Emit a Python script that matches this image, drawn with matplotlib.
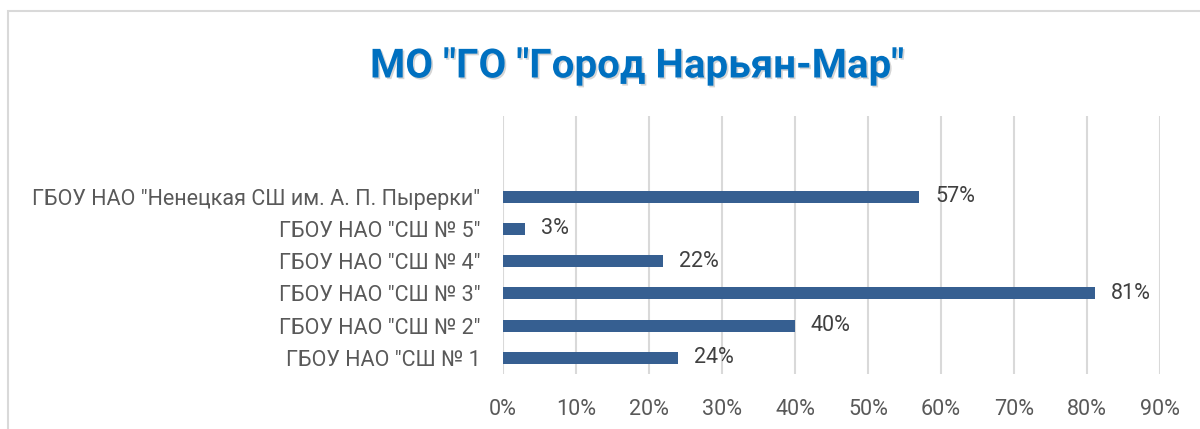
import matplotlib
matplotlib.use("Agg")
import matplotlib.pyplot as plt
import matplotlib.patheffects as pe
from matplotlib.patches import Rectangle
from matplotlib.ticker import FuncFormatter

categories = [
    'ГБОУ НАО "СШ № 1',
    'ГБОУ НАО "СШ № 2"',
    'ГБОУ НАО "СШ № 3"',
    'ГБОУ НАО "СШ № 4"',
    'ГБОУ НАО "СШ № 5"',
    'ГБОУ НАО "Ненецкая СШ им. А. П. Пырерки"',
]
values = [0.24, 0.40, 0.81, 0.22, 0.03, 0.57]
xticks = [0.0, 0.1, 0.2, 0.3, 0.4, 0.5, 0.6, 0.7, 0.8, 0.9]
title = 'МО "ГО "Город Нарьян-Мар"'

plt.rcParams['font.family'] = ['Roboto', 'DejaVu Sans']

W, H = 1200, 429
fig = plt.figure(figsize=(W / 100, H / 100), dpi=100)

# outer border
fig.patches.append(Rectangle((8 / W, -0.2), 1.2, 1 - 11 / H + 0.2,
                             transform=fig.transFigure, fill=False,
                             edgecolor='#D9D9D9', linewidth=1.5))

left, right = 502.7 / W, 1160.3 / W
bottom, top = 1 - 374 / H, 1 - 116 / H
ax = fig.add_axes([left, bottom, right - left, top - bottom])

ypos = list(range(len(categories)))
ax.barh(ypos, values, height=0.37, color='#365F91', zorder=3)

ax.set_xlim(0, 0.9)
ax.set_ylim(-0.5, 7.5)
ax.set_xticks(xticks)
ax.xaxis.set_major_formatter(FuncFormatter(lambda v, p: f'{round(v * 100)}%'))
ax.set_yticks(ypos)
ax.set_yticklabels(categories)

ax.grid(axis='x', color='#D9D9D9', linewidth=1.5, zorder=0)
for s in ax.spines.values():
    s.set_visible(False)
ax.tick_params(axis='both', length=0, labelsize=15.5, labelcolor='#595959')
ax.tick_params(axis='x', pad=18)
ax.tick_params(axis='y', pad=16)

for y, v in zip(ypos, values):
    ax.annotate(f'{round(v * 100)}%', (v, y), xytext=(16 / 100 * 72, 0),
                textcoords='offset points', va='center', ha='left',
                fontsize=15.5, color='#404040')

fig.text(637 / W, 1 - 66.5 / H, title, ha='center', va='center',
         fontsize=29, fontweight='bold', color='#0070C0',
         path_effects=[pe.withSimplePatchShadow(offset=(1.2, -1.2),
                                                shadow_rgbFace='#404040',
                                                alpha=0.22)])

fig.savefig('out.png', dpi=100)
